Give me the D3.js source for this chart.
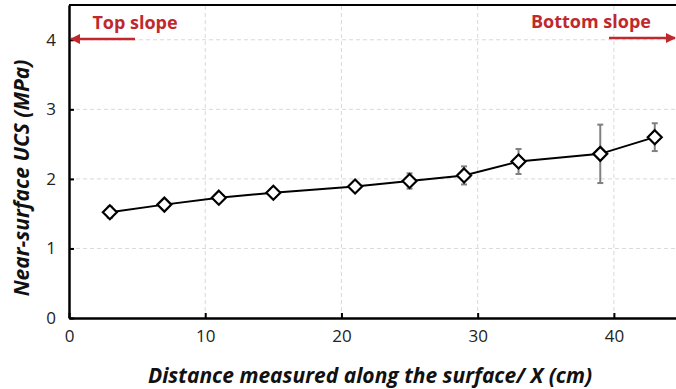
<!DOCTYPE html>
<html>
<head>
<meta charset="utf-8">
<script src="https://cdn.jsdelivr.net/npm/d3@7"></script>
<style>
  body { margin: 0; background: #fff; }
  text { font-family: "Open Sans", sans-serif; }
</style>
</head>
<body>
<script>
// values
var distance = [3, 7, 11, 15, 21, 25, 29, 33, 39, 43];
var ucs      = [1.52, 1.63, 1.73, 1.80, 1.89, 1.97, 2.05, 2.25, 2.36, 2.60];
var ucsErr   = [0.08, 0.04, 0.04, 0.04, 0.06, 0.11, 0.13, 0.18, 0.42, 0.20];
var xTicks = [0, 10, 20, 30, 40];
var yTicks = [0, 1, 2, 3, 4];

var width = 676, height = 389;
var red = "#c0282d";

var svg = d3.select("body").append("svg")
    .attr("width", width)
    .attr("height", height);

var x = d3.scaleLinear().domain([0, 45]).range([69, 682]);
var y = d3.scaleLinear().domain([0, 4.5]).range([318, 5]);

// grid
svg.append("g").selectAll("line.gx")
    .data(xTicks.slice(1))
    .enter().append("line")
    .attr("x1", d => x(d)).attr("x2", d => x(d))
    .attr("y1", y(0)).attr("y2", y(4.5))
    .attr("stroke", "#d9d9d9").attr("stroke-dasharray", "4,3");
svg.append("g").selectAll("line.gy")
    .data(yTicks.slice(1))
    .enter().append("line")
    .attr("x1", x(0)).attr("x2", width)
    .attr("y1", d => y(d)).attr("y2", d => y(d))
    .attr("stroke", "#d9d9d9").attr("stroke-dasharray", "4,3");

// top border
svg.append("line")
    .attr("x1", x(0)).attr("x2", width)
    .attr("y1", y(4.5)).attr("y2", y(4.5))
    .attr("stroke", "#000").attr("stroke-width", 2);

// axes
var xAxis = svg.append("g")
    .attr("transform", "translate(0," + y(0) + ")")
    .call(d3.axisBottom(x).tickValues(xTicks).tickSizeInner(-5)
        .tickSizeOuter(0).tickPadding(12).tickFormat(d3.format("d")));
var yAxis = svg.append("g")
    .attr("transform", "translate(" + x(0) + ",0)")
    .call(d3.axisLeft(y).tickValues(yTicks).tickSizeInner(-5)
        .tickSizeOuter(0).tickPadding(12).tickFormat(d3.format("d")));
[xAxis, yAxis].forEach(function(a) {
    a.select(".domain").attr("stroke", "#000").attr("stroke-width", 2.5);
    a.selectAll(".tick line").attr("stroke", "#000").attr("stroke-width", 2);
    a.selectAll(".tick text").attr("font-size", 17).attr("fill", "#222")
        .attr("font-family", "Open Sans, sans-serif");
});
yAxis.selectAll(".tick text").attr("x", -13);

// error bars
var eb = svg.append("g").attr("stroke", "#808080").attr("stroke-width", 2);
distance.forEach(function(d, i) {
    var top = y(ucs[i] + ucsErr[i]), bot = y(ucs[i] - ucsErr[i]);
    eb.append("line").attr("x1", x(d)).attr("x2", x(d))
        .attr("y1", top).attr("y2", bot);
    eb.append("line").attr("x1", x(d) - 3).attr("x2", x(d) + 3)
        .attr("y1", top).attr("y2", top);
    eb.append("line").attr("x1", x(d) - 3).attr("x2", x(d) + 3)
        .attr("y1", bot).attr("y2", bot);
});

// line
var pts = distance.map((d, i) => [d, ucs[i]]);
svg.append("path")
    .datum(pts)
    .attr("fill", "none").attr("stroke", "#000").attr("stroke-width", 2)
    .attr("d", d3.line().x(d => x(d[0])).y(d => y(d[1])));

// markers
svg.selectAll("path.mk")
    .data(pts)
    .enter().append("path")
    .attr("transform", d => "translate(" + x(d[0]) + "," + y(d[1]) + ")")
    .attr("d", "M0,-7L7,0L0,7L-7,0Z")
    .attr("fill", "#fff").attr("stroke", "#000").attr("stroke-width", 2.2);

// arrows
var defs = svg.append("defs");
defs.append("marker")
    .attr("id", "arr").attr("viewBox", "0 0 10 10")
    .attr("refX", 9).attr("refY", 5)
    .attr("markerWidth", 5).attr("markerHeight", 4)
    .attr("markerUnits", "strokeWidth")
    .attr("orient", "auto")
    .append("path").attr("d", "M0,0L10,5L0,10Z").attr("fill", red);

svg.append("line")
    .attr("x1", 135).attr("x2", 71).attr("y1", 39).attr("y2", 39)
    .attr("stroke", red).attr("stroke-width", 2.5)
    .attr("marker-end", "url(#arr)");
svg.append("line")
    .attr("x1", 609).attr("x2", 675).attr("y1", 38).attr("y2", 38)
    .attr("stroke", red).attr("stroke-width", 2.5)
    .attr("marker-end", "url(#arr)");

svg.append("text")
    .attr("x", 135).attr("y", 29).attr("text-anchor", "middle")
    .attr("font-size", 18).attr("font-weight", "bold").attr("fill", red)
    .text("Top slope");
svg.append("text")
    .attr("x", 591).attr("y", 28).attr("text-anchor", "middle")
    .attr("font-size", 18).attr("font-weight", "bold").attr("fill", red)
    .text("Bottom slope");

// axis titles
svg.append("text")
    .attr("x", 370).attr("y", 383).attr("text-anchor", "middle")
    .attr("font-size", 21).attr("font-weight", "bold")
    .attr("font-style", "italic").attr("fill", "#111")
    .text("Distance measured along the surface/ X (cm)");
svg.append("text")
    .attr("transform", "translate(29,178) rotate(-90)")
    .attr("text-anchor", "middle")
    .attr("font-size", 21).attr("font-weight", "bold")
    .attr("font-style", "italic").attr("fill", "#111")
    .text("Near-surface UCS (MPa)");
</script>
</body>
</html>
